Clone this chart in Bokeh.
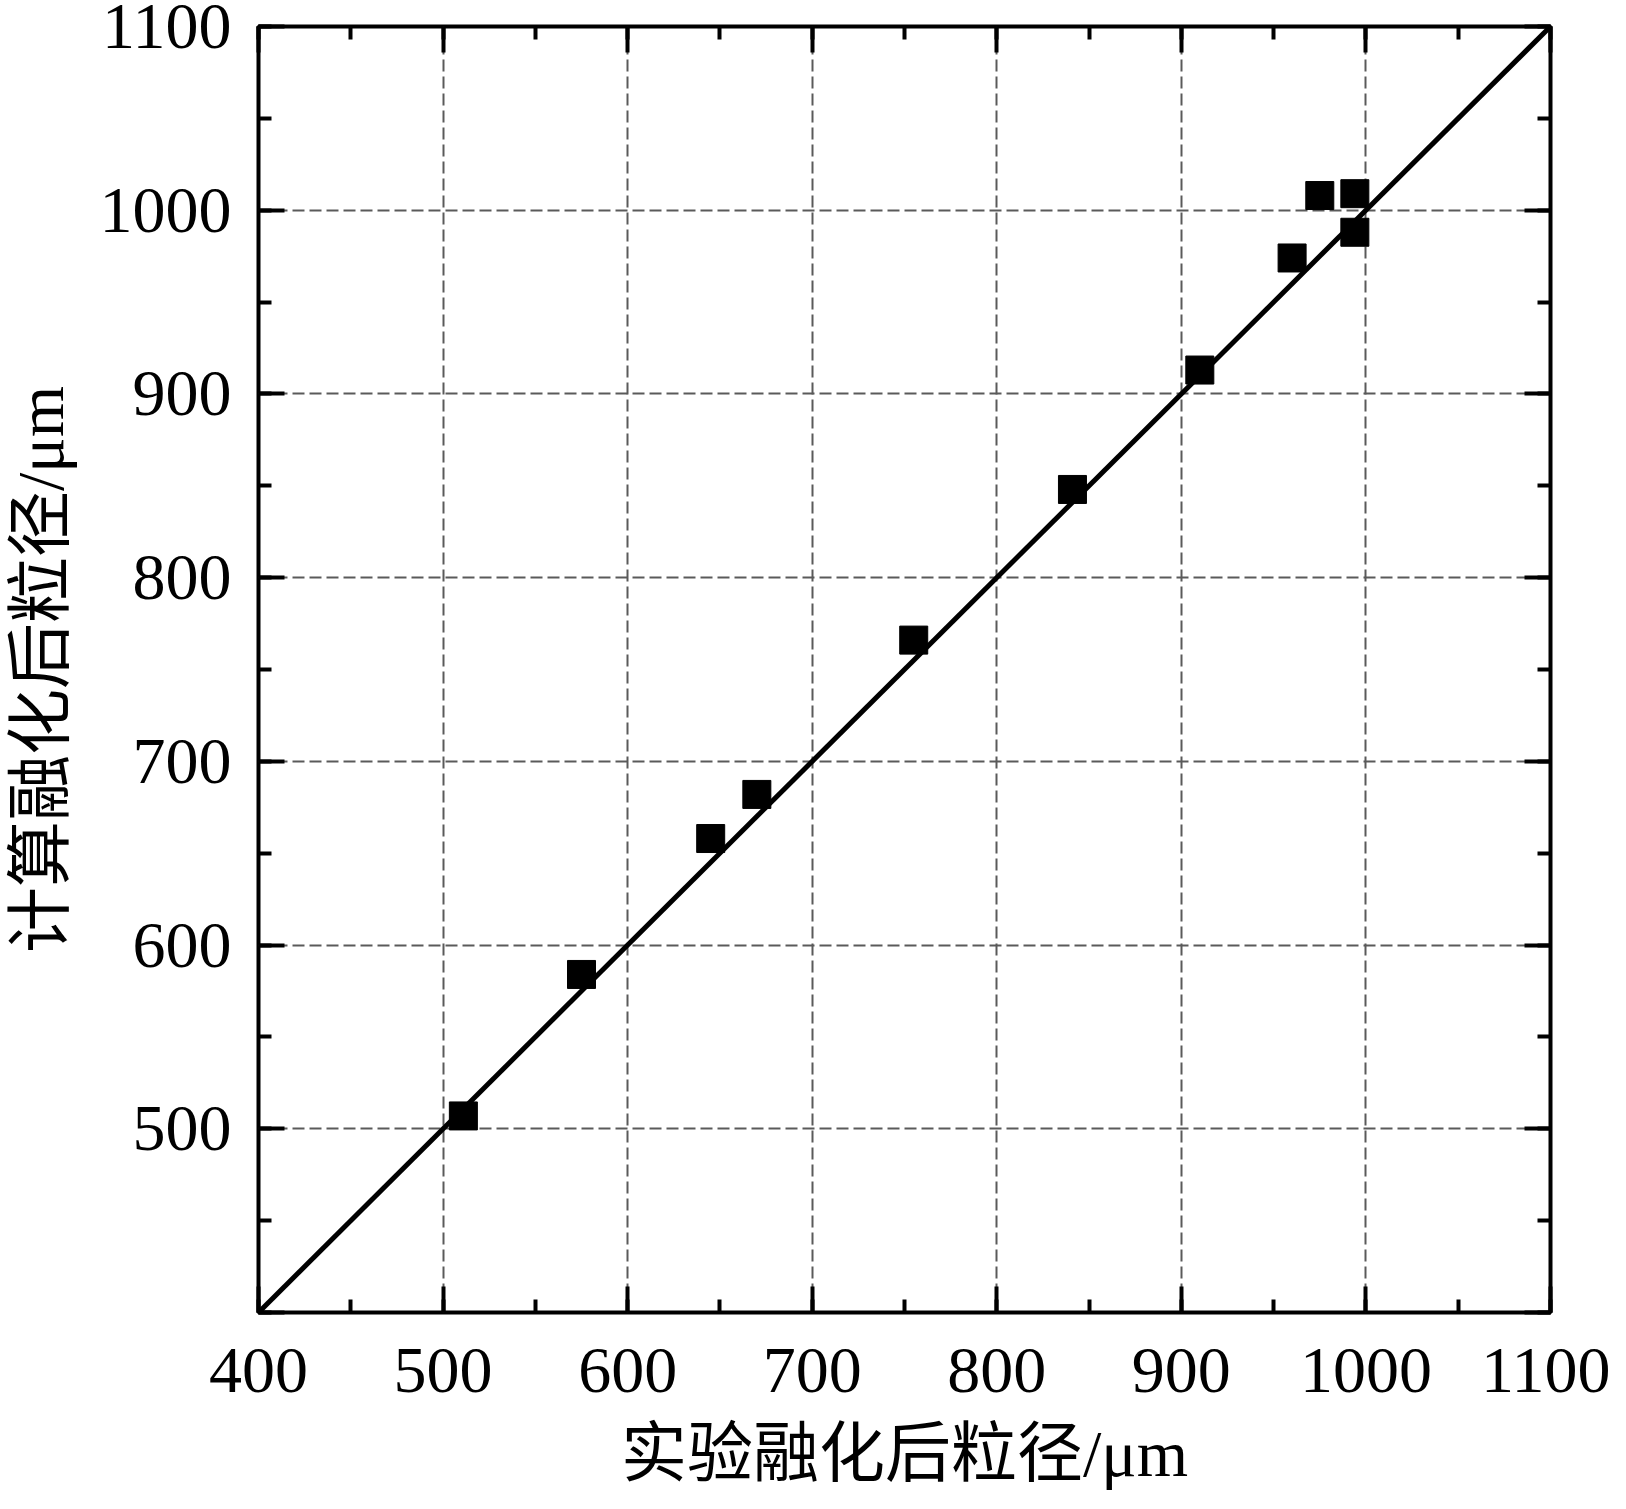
from bokeh.plotting import figure
from bokeh.models import LinearAxis, SingleIntervalTicker, CustomJSTickFormatter, Range1d, Slope
from bokeh.embed import file_html
from bokeh.resources import INLINE

# experimental vs calculated particle size after melting (um)
exp_size = [511, 575, 645, 670, 755, 841, 910, 960, 975, 994, 994]
calc_size = [507, 584, 658, 682, 766, 848, 913, 974, 1008, 1009, 988]

x_lim = [400, 1100]
y_lim = [400, 1100]
x_title = "实验融化后粒径/μm"
y_title = "计算融化后粒径/μm"

TICK_FONT = "Liberation Serif"
LABEL_FONT = "Liberation Serif, Noto Sans CJK SC"

W, H = 1610, 1493
FL, FT, FW, FH = 255, 26, 1295, 1286

p = figure(width=W, height=H,
           x_range=Range1d(*x_lim), y_range=Range1d(*y_lim),
           output_backend="svg", toolbar_location=None,
           min_border_left=FL, min_border_right=W - FL - FW,
           min_border_top=FT, min_border_bottom=H - FT - FH)
p.background_fill_color = "white"
p.border_fill_color = "white"
p.outline_line_color = "black"
p.outline_line_width = 4
p.outline_line_alpha = 1.0


def style_axis(ax):
    ax.ticker = SingleIntervalTicker(interval=100, num_minor_ticks=2)
    ax.axis_line_color = None
    ax.major_tick_in = 26
    ax.major_tick_out = 0
    ax.minor_tick_in = 13
    ax.minor_tick_out = 0
    ax.major_tick_line_width = 4
    ax.minor_tick_line_width = 4
    ax.major_tick_line_color = "black"
    ax.minor_tick_line_color = "black"
    ax.major_label_text_font = TICK_FONT
    ax.major_label_text_font_size = "66px"
    ax.major_label_text_color = "black"
    ax.major_label_standoff = 27


for ax in p.xaxis + p.yaxis:
    style_axis(ax)
p.xaxis.major_label_standoff = 36

p.xaxis.axis_label = x_title
p.yaxis.axis_label = y_title
for ax in p.xaxis + p.yaxis:
    ax.axis_label_text_font = LABEL_FONT
    ax.axis_label_text_font_size = "66px"
    ax.axis_label_text_font_style = "normal"
    ax.axis_label_text_color = "black"
p.xaxis.axis_label_standoff = 22
p.yaxis.axis_label_standoff = 20
p.yaxis.major_label_overrides = {400: ""}

blank = "return ''"
top = LinearAxis(formatter=CustomJSTickFormatter(code=blank))
right = LinearAxis(formatter=CustomJSTickFormatter(code=blank))
style_axis(top)
style_axis(right)
top.major_label_standoff = 0
right.major_label_standoff = 0
p.add_layout(top, "above")
p.add_layout(right, "right")

for g in (p.xgrid, p.ygrid):
    g.grid_line_color = "#5a5a5a"
    g.grid_line_width = 2
    g.grid_line_dash = "12 5"

p.add_layout(Slope(gradient=1, y_intercept=0, line_color="black", line_width=5))

p.scatter(exp_size, calc_size, marker="square", size=28,
          fill_color="black", line_color="black")

open("out.html", "w").write(file_html(p, INLINE))
